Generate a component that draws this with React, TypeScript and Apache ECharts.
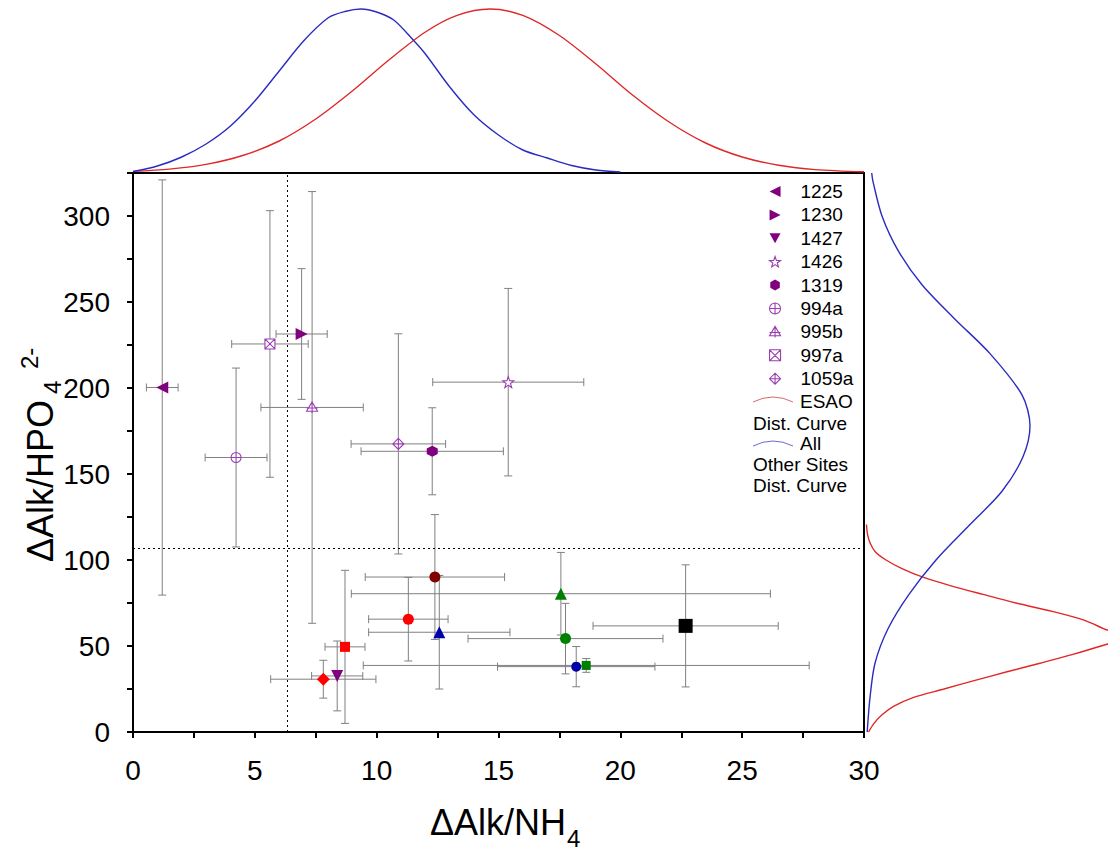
import React, { useEffect, useRef } from 'react';
import * as echarts from 'echarts';

// ---- Labelled sites (legend) ----
const siteNames = ['1225', '1230', '1427', '1426', '1319', '994a', '995b', '997a', '1059a'];
const siteX = [1.2, 6.92, 8.38, 15.4, 12.28, 4.23, 7.35, 5.62, 10.89];
const siteY = [200.3, 231.4, 32.6, 203.4, 163.2, 159.6, 188.7, 225.6, 167.5];
const siteXErr = [0.65, 1.05, 1.05, 3.1, 2.92, 1.27, 2.1, 1.57, 1.94];
const siteYErr = [120.7, 38, 20.3, 54.5, 25.3, 52, 125.5, 77.5, 64];

// ---- Other (unlabelled) sites ----
const otherNames = ['p1', 'p2', 'p3', 'p4', 'p5', 'p6', 'p7', 'p8', 'p9', 'p10'];
const otherX = [7.81, 8.7, 11.3, 12.39, 12.57, 18.19, 17.56, 17.75, 18.6, 22.68];
const otherY = [30.7, 49.5, 65.6, 90.1, 58, 38, 80.4, 54.3, 38.7, 61.7];
const otherXErr = [2.16, 0.82, 1.63, 2.86, 2.9, 3.23, 8.6, 4, 9.15, 3.8];
const otherYErr = [11, 44.5, 24.3, 36.3, 33, 11.7, 24, 20.5, 4, 35.5];

// ---- Threshold lines ----
const xThreshold = 6.32;
const yThreshold = 106.6;

// ---- Marginal distribution curves ----
// top: x value vs. curve height
const blueTopX = [0, 1, 2, 3, 4, 5, 6, 7, 8, 8.7, 9.35, 10, 10.7, 11.5, 12, 13, 14, 15, 16, 17, 18, 19, 20];
const blueTopH = [1.5, 7, 16, 29, 47, 72, 102, 132, 155, 161.5, 164, 161, 153, 133, 119, 86, 58, 38, 23, 15, 7.5, 3, 1];
const redTopX = [0, 1.5, 3, 4.5, 6, 7.5, 9, 10.5, 12, 13.3, 14.65, 16, 17.5, 19, 20.5, 22, 23.5, 25, 26.5, 28, 30];
const redTopH = [1.6, 3.9, 8.6, 17.5, 32, 54, 82, 113, 141, 157.6, 164, 157.6, 137.5, 109, 78, 51, 30, 16, 7.8, 3.4, 1.2];
// right: y value vs. curve width
const blueRightY = [0, 20, 40, 60, 80, 100, 120, 140, 160, 178, 196, 220, 240, 260, 280, 300, 320, 325];
const blueRightW = [1.2, 4, 9, 22, 43, 70, 103, 136, 157, 164, 156, 124, 89, 56, 32, 16, 7, 5.7];
const redRightY = [0, 5, 10, 15, 20, 25, 30, 35, 40, 45, 50, 55, 60, 65, 70, 75, 80, 85, 90, 95, 100, 105, 110, 115, 120.6];
const redRightW = [2.5, 8, 16, 28, 47, 78, 109, 141, 174, 206, 235, 258, 238, 218, 187, 150, 117, 85, 57, 36, 20, 9, 4, 1.5, 0.5];

const FONT = '"Liberation Sans", Arial, sans-serif';
const PURPLE = '#800080';
const HOLLOW = '#9a3fb0';

const SYM = {
  triLeft: 'path://M20,0 L20,20 L0,10 Z',
  triRight: 'path://M0,0 L0,20 L20,10 Z',
  triDown: 'path://M0,0 L20,0 L10,18 Z',
  star: 'path://M10,0 L12.35,6.76 L19.51,6.91 L13.8,11.24 L15.88,18.09 L10,14 L4.12,18.09 L6.2,11.24 L0.49,6.91 L7.65,6.76 Z',
  hex: 'path://M10,0 L18.66,5 L18.66,15 L10,20 L1.34,15 L1.34,5 Z',
  circlePlus: 'path://M10,0 A10,10 0 1,1 10,20 A10,10 0 1,1 10,0 Z M0,10 L20,10 M10,0 L10,20',
  triPlus: 'path://M10,0 L20,17 L0,17 Z M10,0 L10,20 M0,11 L20,11',
  squareX: 'path://M0,0 L20,0 L20,20 L0,20 Z M0,0 L20,20 M20,0 L0,20',
  diamondPlus: 'path://M10,0 L20,10 L10,20 L0,10 Z M0,10 L20,10 M10,0 L10,20',
};

const siteStyle = [
  { symbol: SYM.triLeft, size: 12, color: PURPLE, hollow: false },
  { symbol: SYM.triRight, size: 12, color: PURPLE, hollow: false },
  { symbol: SYM.triDown, size: 12, color: PURPLE, hollow: false },
  { symbol: SYM.star, size: 11, color: HOLLOW, hollow: true },
  { symbol: SYM.hex, size: 11, color: PURPLE, hollow: false },
  { symbol: SYM.circlePlus, size: 10, color: HOLLOW, hollow: true },
  { symbol: SYM.triPlus, size: 11, color: HOLLOW, hollow: true },
  { symbol: SYM.squareX, size: 10, color: HOLLOW, hollow: true },
  { symbol: SYM.diamondPlus, size: 11, color: HOLLOW, hollow: true },
];

const otherStyle = [
  { symbol: 'diamond', size: 13, color: '#ff0000' },
  { symbol: 'rect', size: 10, color: '#ff0000' },
  { symbol: 'circle', size: 11, color: '#ff0000' },
  { symbol: 'circle', size: 11, color: '#800000' },
  { symbol: 'triangle', size: 12, color: '#0000a8' },
  { symbol: 'circle', size: 10, color: '#0000a8' },
  { symbol: 'triangle', size: 12, color: '#008000' },
  { symbol: 'circle', size: 11, color: '#008000' },
  { symbol: 'rect', size: 9, color: '#008000' },
  { symbol: 'rect', size: 14, color: '#000000' },
];

const itemStyleFor = (s: { color: string; hollow: boolean }) =>
  s.hollow
    ? { color: '#ffffff', borderColor: s.color, borderWidth: 1.1, opacity: 1 }
    : { color: s.color, opacity: 1 };

export default function App() {
  const ref = useRef<HTMLDivElement>(null);

  useEffect(() => {
    if (!ref.current) return;
    const chart = echarts.init(ref.current, null, { renderer: 'svg' });

    const errData = [
      ...siteX.map((x, i) => [x, siteY[i], siteXErr[i], siteYErr[i]]),
      ...otherX.map((x, i) => [x, otherY[i], otherXErr[i], otherYErr[i]]),
    ];

    const errSeries = {
      type: 'custom',
      name: 'errors',
      xAxisIndex: 0,
      yAxisIndex: 0,
      z: 1,
      encode: { x: 0, y: 1 },
      data: errData,
      renderItem: (params: any, api: any) => {
        const x = api.value(0), y = api.value(1), xe = api.value(2), ye = api.value(3);
        const c = api.coord([x, y]);
        const l = api.coord([x - xe, y]);
        const r = api.coord([x + xe, y]);
        const t = api.coord([x, y + ye]);
        const b = api.coord([x, y - ye]);
        const cap = 4;
        const style = { stroke: '#808080', lineWidth: 1, fill: 'none' };
        const ln = (x1: number, y1: number, x2: number, y2: number) => ({
          type: 'line', shape: { x1, y1, x2, y2 }, style,
        });
        return {
          type: 'group',
          children: [
            ln(l[0], c[1], r[0], c[1]),
            ln(l[0], c[1] - cap, l[0], c[1] + cap),
            ln(r[0], c[1] - cap, r[0], c[1] + cap),
            ln(c[0], t[1], c[0], b[1]),
            ln(c[0] - cap, t[1], c[0] + cap, t[1]),
            ln(c[0] - cap, b[1], c[0] + cap, b[1]),
          ],
        };
      },
    };

    const siteSeries = siteNames.map((name, i) => {
      const s = siteStyle[i];
      return {
        type: 'scatter',
        name,
        xAxisIndex: 0,
        yAxisIndex: 0,
        z: 3,
        symbol: s.symbol,
        symbolSize: s.size,
        itemStyle: itemStyleFor(s),
        data: [[siteX[i], siteY[i]]],
      };
    });

    const otherSeries = otherNames.map((name, i) => {
      const s = otherStyle[i];
      return {
        type: 'scatter',
        name,
        xAxisIndex: 0,
        yAxisIndex: 0,
        z: 3,
        symbol: s.symbol,
        symbolSize: s.size,
        itemStyle: { color: s.color, opacity: 1 },
        data: [[otherX[i], otherY[i]]],
        markLine: i === 0 ? {
          silent: true,
          symbol: 'none',
          label: { show: false },
          lineStyle: { color: '#000', type: [2, 3], width: 1 },
          data: [{ xAxis: xThreshold }, { yAxis: yThreshold }],
        } : undefined,
      };
    });

    const curve = (name: string, data: number[][], color: string, xi: number) => ({
      type: 'line',
      name,
      xAxisIndex: xi,
      yAxisIndex: xi,
      data,
      smooth: 0.3,
      showSymbol: false,
      symbol: 'none',
      clip: true,
      lineStyle: { color, width: 1.4 },
    });

    const tickLabel = { fontFamily: FONT, fontSize: 28, color: '#000' };
    const axLine = { show: true, lineStyle: { color: '#000', width: 2 } };

    const option: any = {
      animation: false,
      backgroundColor: '#fff',
      grid: [
        { left: 133, top: 173, width: 731, height: 559, show: true, borderColor: '#000', borderWidth: 2 },
        { left: 133, top: 8, width: 731, height: 165 },
        { left: 866, top: 173, width: 242, height: 559 },
      ],
      xAxis: [
        {
          gridIndex: 0, type: 'value', min: 0, max: 30, interval: 2.5,
          axisLine: axLine,
          axisTick: { show: true, length: 6, lineStyle: { color: '#000', width: 2 } },
          axisLabel: { ...tickLabel, margin: 24, formatter: (v: number) => (v % 5 === 0 ? String(v) : '') },
          splitLine: { show: false },
        },
        { gridIndex: 1, type: 'value', min: 0, max: 30, show: false },
        { gridIndex: 2, type: 'value', min: 0, max: 242, show: false },
      ],
      yAxis: [
        {
          gridIndex: 0, type: 'value', min: 0, max: 325, interval: 25,
          axisLine: axLine,
          axisTick: { show: true, length: 6, lineStyle: { color: '#000', width: 2 } },
          axisLabel: { ...tickLabel, margin: 23, formatter: (v: number) => (v % 50 === 0 && v <= 300 ? String(v) : '') },
          splitLine: { show: false },
        },
        { gridIndex: 1, type: 'value', min: 0, max: 165, show: false },
        { gridIndex: 2, type: 'value', min: 0, max: 325, show: false },
      ],
      legend: {
        data: siteNames.map((name, i) => ({ name, itemStyle: itemStyleFor(siteStyle[i]) })),
        orient: 'vertical',
        left: 764,
        top: 177,
        itemWidth: 11,
        itemHeight: 11,
        itemGap: 4.4,
        selectedMode: false,
        textStyle: { fontFamily: FONT, fontSize: 19, color: '#000', lineHeight: 19, padding: [0, 0, 0, 15] },
      },
      graphic: [
        // legend entries for the distribution curves
        { type: 'bezierCurve', shape: { x1: 753, y1: 402, x2: 793, y2: 402, cpx1: 773, cpy1: 392 }, style: { stroke: '#d86a6a', lineWidth: 1, fill: 'none' } },
        { type: 'text', x: 800, y: 401, style: { text: 'ESAO', font: `19px ${FONT}`, fill: '#000', textAlign: 'left', textVerticalAlign: 'middle', verticalAlign: 'middle' } },
        { type: 'text', x: 753, y: 423, style: { text: 'Dist. Curve', font: `19px ${FONT}`, fill: '#000', textAlign: 'left', textVerticalAlign: 'middle', verticalAlign: 'middle' } },
        { type: 'bezierCurve', shape: { x1: 753, y1: 446, x2: 793, y2: 446, cpx1: 773, cpy1: 436 }, style: { stroke: '#6a6ad8', lineWidth: 1, fill: 'none' } },
        { type: 'text', x: 800, y: 443, style: { text: 'All', font: `19px ${FONT}`, fill: '#000', textAlign: 'left', textVerticalAlign: 'middle', verticalAlign: 'middle' } },
        { type: 'text', x: 753, y: 464, style: { text: 'Other Sites', font: `19px ${FONT}`, fill: '#000', textAlign: 'left', textVerticalAlign: 'middle', verticalAlign: 'middle' } },
        { type: 'text', x: 753, y: 485, style: { text: 'Dist. Curve', font: `19px ${FONT}`, fill: '#000', textAlign: 'left', textVerticalAlign: 'middle', verticalAlign: 'middle' } },
        // x axis title
        { type: 'text', x: 430, y: 822, style: { text: 'ΔAlk/NH', font: `36px ${FONT}`, fill: '#000', textAlign: 'left', textVerticalAlign: 'middle', verticalAlign: 'middle' } },
        { type: 'text', x: 567, y: 838, style: { text: '4', font: `24px ${FONT}`, fill: '#000', textAlign: 'left', textVerticalAlign: 'middle', verticalAlign: 'middle' } },
        // y axis title (rotated)
        {
          type: 'group', x: 40, y: 562, rotation: Math.PI / 2,
          children: [
            { type: 'text', x: 0, y: 0, style: { text: 'ΔAlk/HPO', font: `36px ${FONT}`, fill: '#000', textAlign: 'left', textVerticalAlign: 'middle', verticalAlign: 'middle' } },
            { type: 'text', x: 168, y: 12, style: { text: '4', font: `24px ${FONT}`, fill: '#000', textAlign: 'left', textVerticalAlign: 'middle', verticalAlign: 'middle' } },
            { type: 'text', x: 193, y: -11, style: { text: '2-', font: `24px ${FONT}`, fill: '#000', textAlign: 'left', textVerticalAlign: 'middle', verticalAlign: 'middle' } },
          ],
        },
      ],
      series: [
        errSeries,
        ...siteSeries,
        ...otherSeries,
        curve('ESAO top', redTopX.map((x, i) => [x, redTopH[i]]), '#e02828', 1),
        curve('All top', blueTopX.map((x, i) => [x, blueTopH[i]]), '#2b2bc0', 1),
        curve('ESAO right', redRightY.map((y, i) => [redRightW[i], y]), '#e02828', 2),
        curve('All right', blueRightY.map((y, i) => [blueRightW[i], y]), '#2b2bc0', 2),
      ],
    };

    chart.setOption(option);
    return () => chart.dispose();
  }, []);

  return (
    <div
      ref={ref}
      style={{ position: 'fixed', left: 0, top: 0, width: 1108, height: 853, background: '#fff' }}
    />
  );
}
